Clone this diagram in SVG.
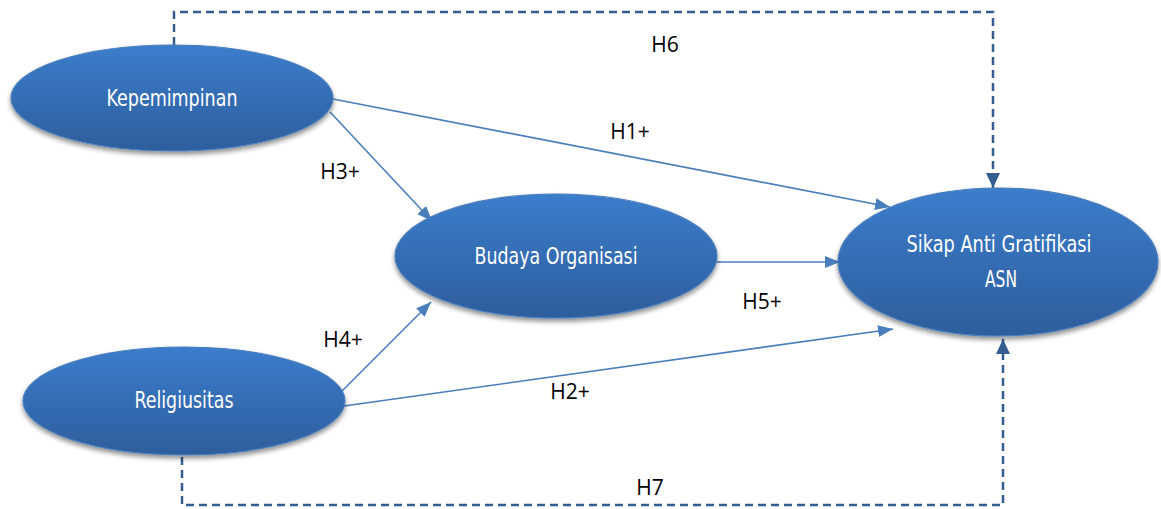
<svg xmlns="http://www.w3.org/2000/svg" width="1161" height="509" viewBox="0 0 1161 509">
<style>
.node{fill:url(#g);stroke:#4a7ebb;stroke-width:1.2;filter:url(#sh)}
.nt{font-family:"DejaVu Sans",sans-serif;font-stretch:condensed;font-size:23px;fill:#ffffff;text-anchor:middle}
.lbl{font-family:"Open Sans","Liberation Sans",sans-serif;font-size:21px;fill:#000000;text-anchor:middle}
.sol{fill:none;stroke:#4a7ebb;stroke-width:1.6;marker-end:url(#a1)}
.dash{fill:none;stroke:#355d8f;stroke-width:2.5;stroke-dasharray:8,5}
</style>
<defs>
<linearGradient id="g" x1="0" y1="0" x2="0" y2="1">
<stop offset="0" stop-color="#3b7dcc"/>
<stop offset="1" stop-color="#2e5d9c"/>
</linearGradient>
<filter id="sh" x="-10%" y="-20%" width="120%" height="150%">
<feGaussianBlur in="SourceAlpha" stdDeviation="2.5"/>
<feOffset dx="0" dy="3" result="b"/>
<feComponentTransfer><feFuncA type="linear" slope="0.45"/></feComponentTransfer>
<feMerge><feMergeNode/><feMergeNode in="SourceGraphic"/></feMerge>
</filter>
<marker id="a1" markerWidth="15" markerHeight="12" refX="15" refY="6" orient="auto" markerUnits="userSpaceOnUse">
<path d="M0,0 L15,6 L0,12 z" fill="#4a7ebb"/>
</marker>
<marker id="a2" markerWidth="15" markerHeight="14" refX="15" refY="7" orient="auto" markerUnits="userSpaceOnUse">
<path d="M0,0 L15,7 L0,14 z" fill="#355d8f"/>
</marker>
</defs>
<g id="connectors">
<path class="dash" d="M174,45 V12 H993 V176"/>
<path d="M993,176 V188" stroke="#355d8f" stroke-width="2.5" marker-end="url(#a2)"/>
<path class="dash" d="M182,457 V505 H1003 V352"/>
<path d="M1003,352 V339" stroke="#355d8f" stroke-width="2.5" marker-end="url(#a2)"/>
<path class="sol" d="M333,99 L890,207"/>
<path class="sol" d="M330,112 L432,221"/>
<path class="sol" d="M717,262 L840,262"/>
<path class="sol" d="M342,391 L431,302"/>
<path class="sol" d="M344,406 L893,329"/>
</g>
<g id="labels">
<text class="lbl" x="665" y="52">H6</text>
<text class="lbl" x="630" y="139">H1+</text>
<text class="lbl" x="340" y="179">H3+</text>
<text class="lbl" x="762" y="309">H5+</text>
<text class="lbl" x="343" y="347">H4+</text>
<text class="lbl" x="570" y="399">H2+</text>
<text class="lbl" x="650" y="495">H7</text>
</g>
<g id="kepemimpinan">
<ellipse class="node" cx="172" cy="98" rx="161" ry="53"/>
<text class="nt" x="172" y="106" textLength="131" lengthAdjust="spacingAndGlyphs">Kepemimpinan</text>
</g>
<g id="budaya">
<ellipse class="node" cx="556" cy="256" rx="161" ry="62"/>
<text class="nt" x="556" y="264" textLength="163" lengthAdjust="spacingAndGlyphs">Budaya Organisasi</text>
</g>
<g id="sikap">
<ellipse class="node" cx="998" cy="262" rx="160" ry="74"/>
<text class="nt" x="999" y="252" textLength="185" lengthAdjust="spacingAndGlyphs">Sikap Anti Gratifikasi</text>
<text class="nt" x="1001" y="287" textLength="32" lengthAdjust="spacingAndGlyphs">ASN</text>
</g>
<g id="religiusitas">
<ellipse class="node" cx="184" cy="401" rx="161" ry="54"/>
<text class="nt" x="184" y="408" textLength="99" lengthAdjust="spacingAndGlyphs">Religiusitas</text>
</g>
</svg>
